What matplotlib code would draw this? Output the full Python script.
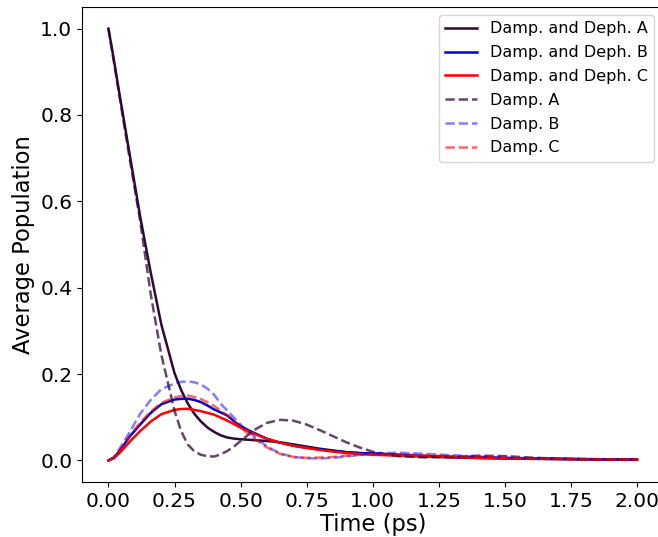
import matplotlib
matplotlib.use("Agg")
import matplotlib.pyplot as plt

time_ps = [0.0, 0.02, 0.04, 0.08, 0.12, 0.16, 0.2, 0.25, 0.275, 0.3, 0.325, 0.35, 0.375,
           0.4, 0.425, 0.45, 0.475, 0.5, 0.55, 0.6, 0.65, 0.7, 0.75, 0.8, 0.85, 0.9,
           0.95, 1.0, 1.1, 1.2, 1.3, 1.4, 1.5, 1.6, 1.7, 1.8, 1.9, 2.0]

deph_A = [1.0, 0.93, 0.855, 0.71, 0.565, 0.435, 0.315, 0.202, 0.163, 0.132, 0.108, 0.09,
          0.076, 0.066, 0.058, 0.053, 0.0505, 0.049, 0.047, 0.045, 0.042, 0.037, 0.032,
          0.027, 0.023, 0.019, 0.017, 0.015, 0.012, 0.009, 0.007, 0.0055, 0.0045,
          0.0035, 0.003, 0.0025, 0.002, 0.0015]
deph_B = [0.0, 0.006, 0.02, 0.055, 0.083, 0.110, 0.13, 0.141, 0.1425, 0.143, 0.140, 0.135,
          0.127, 0.118, 0.111, 0.104, 0.091, 0.079, 0.064, 0.05, 0.041, 0.034, 0.029,
          0.0255, 0.022, 0.019, 0.017, 0.016, 0.013, 0.010, 0.008, 0.0065, 0.005,
          0.004, 0.0035, 0.003, 0.0025, 0.002]
deph_C = [0.0, 0.005, 0.016, 0.043, 0.068, 0.09, 0.107, 0.117, 0.119, 0.1195, 0.117, 0.114,
          0.110, 0.106, 0.099, 0.092, 0.084, 0.076, 0.062, 0.05, 0.041, 0.034, 0.029,
          0.024, 0.0205, 0.017, 0.015, 0.013, 0.011, 0.009, 0.0075, 0.006, 0.005,
          0.0042, 0.0035, 0.0028, 0.002, 0.0015]
damp_A = [1.0, 0.925, 0.85, 0.70, 0.555, 0.385, 0.245, 0.115, 0.068, 0.037, 0.021, 0.013,
          0.0095, 0.009, 0.014, 0.022, 0.032, 0.045, 0.07, 0.087, 0.094, 0.092, 0.083,
          0.07, 0.056, 0.042, 0.03, 0.02, 0.0095, 0.007, 0.008, 0.011, 0.010, 0.0065,
          0.004, 0.003, 0.0025, 0.002]
damp_B = [0.0, 0.007, 0.025, 0.065, 0.108, 0.14, 0.165, 0.178, 0.182, 0.183, 0.181, 0.176,
          0.166, 0.152, 0.131, 0.115, 0.099, 0.083, 0.056, 0.032, 0.016, 0.008, 0.005,
          0.0045, 0.006, 0.009, 0.013, 0.016, 0.018, 0.015, 0.012, 0.009, 0.007, 0.005,
          0.004, 0.003, 0.0025, 0.002]
damp_C = [0.0, 0.006, 0.02, 0.055, 0.088, 0.113, 0.133, 0.146, 0.149, 0.150, 0.147, 0.142,
          0.135, 0.126, 0.115, 0.104, 0.090, 0.076, 0.051, 0.03, 0.015, 0.008, 0.006,
          0.0065, 0.008, 0.011, 0.013, 0.014, 0.014, 0.012, 0.0095, 0.0075, 0.006,
          0.0045, 0.0035, 0.003, 0.0025, 0.002]

labels = ["Damp. and Deph. A", "Damp. and Deph. B", "Damp. and Deph. C",
          "Damp. A", "Damp. B", "Damp. C"]

fig = plt.figure(figsize=(6.58, 5.37), dpi=100)
ax = fig.add_axes([82 / 658, (537 - 482) / 537, 581.5 / 658, 475 / 537])

col_A = "#2e0a33"
col_B = "#0000cc"
col_C = "#ff0000"
lw = 1.8
ax.plot(time_ps, deph_A, color=col_A, lw=lw, label=labels[0])
ax.plot(time_ps, deph_B, color=col_B, lw=lw, label=labels[1])
ax.plot(time_ps, deph_C, color=col_C, lw=lw, label=labels[2])
ax.plot(time_ps, damp_A, color=col_A, lw=lw, ls="--", alpha=0.75, label=labels[3])
ax.plot(time_ps, damp_B, color="blue", lw=lw, ls="--", alpha=0.5, label=labels[4])
ax.plot(time_ps, damp_C, color="red", lw=lw, ls="--", alpha=0.6, label=labels[5])

ax.set_xlim(-0.1, 2.1)
ax.set_ylim(-0.05, 1.05)
ax.set_xticks([0, 0.25, 0.5, 0.75, 1.0, 1.25, 1.5, 1.75, 2.0])
ax.set_yticks([0, 0.2, 0.4, 0.6, 0.8, 1.0])
ax.tick_params(labelsize=14.5)
ax.set_xlabel("Time (ps)", fontsize=16.3, labelpad=2)
ax.set_ylabel("Average Population", fontsize=16.3)

ax.legend(loc="upper right", bbox_to_anchor=(654 / 658, 1 - 15 / 537),
          bbox_transform=fig.transFigure, borderaxespad=0, fontsize=11.5,
          labelspacing=0.55)

fig.savefig("out.png", dpi=100)
